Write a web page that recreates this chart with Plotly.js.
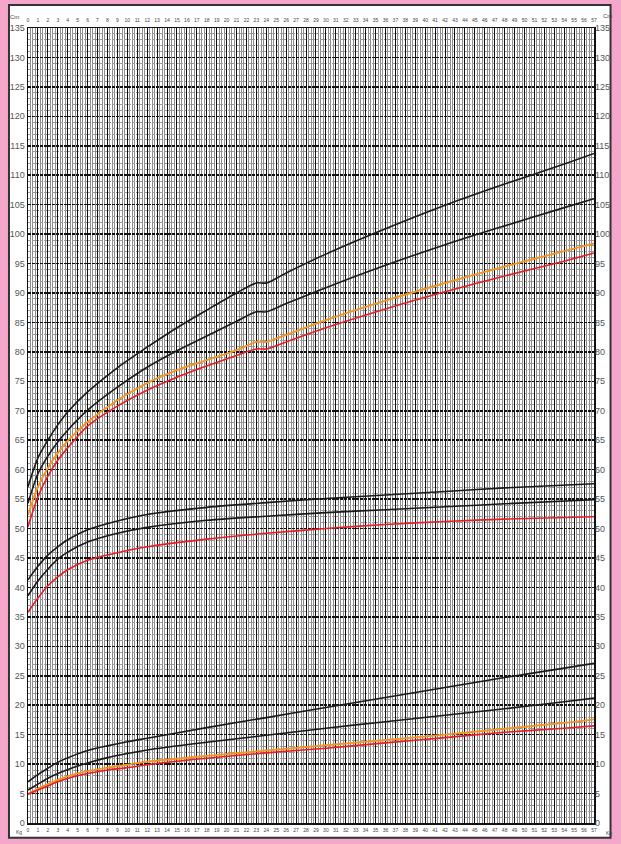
<!DOCTYPE html>
<html><head><meta charset="utf-8">
<script src="https://cdn.plot.ly/plotly-3.0.1.min.js"></script>
<style>html,body{margin:0;padding:0;background:#f4a7cb;}#chart{width:621px;height:844px;}</style>
</head><body><div id="chart"></div>
<script>
// length / height (cm)
const monthsLen = [0,1,2,3,4,6,9,12,15,18,21,23,24,26,30,36,42,48,54,57];
const lenBlack1 = [57.1,62.0,65.0,67.6,69.8,73.2,77.3,80.8,84.1,87.1,90.0,91.7,91.7,93.4,96.6,100.9,104.9,108.5,111.9,113.7];
const lenBlack2 = [54.3,59.3,62.3,64.7,66.7,70.1,74.0,77.4,80.2,82.7,85.2,86.8,86.8,88.2,90.9,94.7,98.2,101.4,104.5,106.0];
const lenOrange = [52.3,57.1,60.3,62.8,64.9,68.1,71.8,74.7,76.9,78.6,80.3,81.7,81.7,82.9,85.4,88.7,91.7,94.5,97.1,98.4];
const lenRed    = [50.3,55.4,58.9,61.6,63.7,67.4,70.8,73.5,75.7,77.6,79.4,80.5,80.5,81.7,84.1,87.3,90.2,92.9,95.4,96.8];

// head circumference (cm)
const monthsHead = [0,1,2,3,4,6,9,12,18,24,30,36,42,48,57];
const headBlack1 = [41.3,43.6,45.5,46.9,48.1,49.8,51.3,52.4,53.6,54.4,55.1,55.7,56.3,56.9,57.6];
const headBlack2 = [38.6,41.1,43.1,44.8,46.0,47.7,49.2,50.2,51.4,52.1,52.7,53.2,53.7,54.2,54.9];
const headRed    = [35.8,38.2,40.3,41.8,43.0,44.6,45.9,46.9,48.2,49.2,50.0,50.7,51.2,51.6,52.0];

// weight (kg)
const monthsWt = [0,1,2,3,4.5,6,8,10,12,18,24,30,36,42,48,54,57];
const wtBlack1 = [7.0,8.2,9.3,10.3,11.4,12.3,13.1,13.8,14.4,16.2,17.9,19.6,21.3,23.0,24.7,26.3,27.1];
const wtBlack2 = [5.6,6.6,7.6,8.4,9.4,10.2,11.1,11.8,12.4,13.7,14.9,16.1,17.2,18.3,19.4,20.6,21.2];
const wtOrange = [4.9,5.8,6.6,7.3,8.2,8.8,9.4,9.9,10.4,11.4,12.3,13.2,14.1,15.0,16.0,17.0,17.6];
const wtRed    = [4.9,5.6,6.3,7.0,7.8,8.4,9.0,9.4,9.9,11.0,11.9,12.7,13.6,14.5,15.4,16.1,16.5];

const xTicks = Array.from({length:58},(_,i)=>i);
const yTicks = Array.from({length:28},(_,i)=>i*5);

const BLACK='#1a1a1a', ORANGE='#f7941d', RED='#ed1c24';
function tr(x,y,c,w){return {x:x,y:y,type:'scatter',mode:'lines',line:{color:c,width:w,shape:'spline',smoothing:0.8},hoverinfo:'skip',showlegend:false};}
const data=[
 tr(monthsLen,lenBlack1,BLACK,1.6), tr(monthsLen,lenBlack2,BLACK,1.6), tr(monthsLen,lenOrange,ORANGE,1.9), tr(monthsLen,lenRed,RED,1.6),
 tr(monthsHead,headBlack1,BLACK,1.6), tr(monthsHead,headBlack2,BLACK,1.6), tr(monthsHead,headRed,RED,1.6),
 tr(monthsWt,wtBlack1,BLACK,1.6), tr(monthsWt,wtBlack2,BLACK,1.6), tr(monthsWt,wtOrange,ORANGE,1.9), tr(monthsWt,wtRed,RED,1.6),
 {x:[0,57],y:[0,135],xaxis:'x2',yaxis:'y2',type:'scatter',mode:'markers',marker:{opacity:0},hoverinfo:'skip',showlegend:false}
];
const FAM='Liberation Sans, Arial, sans-serif';
const tickFont={family:FAM,size:5,color:'#444'};
const yFont={family:FAM,size:9,color:'#555'};
const layout={
 width:621,height:844,margin:{l:28,r:27,t:28,b:21},
 paper_bgcolor:'#f4a7cb',plot_bgcolor:'#ffffff',showlegend:false,
 xaxis:{range:[0,57],tickvals:xTicks,ticktext:xTicks.map(String),ticks:'',tickfont:tickFont,ticklabelstandoff:1,
   showgrid:true,gridcolor:'#111',gridwidth:1,zeroline:false,
   minor:{dtick:0.25,tick0:0,showgrid:true,gridcolor:'#8c8c8c',gridwidth:1},
   showline:true,linecolor:'#111',linewidth:1.5,mirror:true,side:'bottom',fixedrange:true},
 xaxis2:{range:[0,57],overlaying:'x',side:'top',tickvals:xTicks,ticktext:xTicks.map(String),ticks:'',tickfont:tickFont,ticklabelstandoff:4,showgrid:false,zeroline:false,fixedrange:true},
 yaxis:{range:[0,135],tickvals:yTicks,ticktext:yTicks.map(String),ticks:'',tickfont:yFont,
   showgrid:true,gridcolor:'#111',gridwidth:1.6,griddash:'3px,1px',zeroline:false,
   minor:{dtick:1,tick0:0,showgrid:true,gridcolor:'#9a9a9a',gridwidth:1},
   showline:true,linecolor:'#111',linewidth:1.5,mirror:true,side:'left',fixedrange:true},
 yaxis2:{range:[0,135],overlaying:'y',side:'right',tickvals:yTicks,ticktext:yTicks.map(String),ticks:'',tickfont:yFont,showgrid:false,zeroline:false,fixedrange:true},
 shapes:[{type:'rect',xref:'paper',yref:'paper',x0:-0.0336,x1:1.0292,y0:-0.0185,y1:1.0289,fillcolor:'#ffffff',line:{color:'#333',width:2},layer:'below'}],
 annotations:[
  {xref:'paper',yref:'paper',x:-0.012,y:1.008,text:'Cm',showarrow:false,font:{family:FAM,size:6,color:'#444'},xanchor:'right',yanchor:'bottom'},
  {xref:'paper',yref:'paper',x:1.012,y:1.009,text:'Cm',showarrow:false,font:{family:FAM,size:6,color:'#444'},xanchor:'left',yanchor:'bottom'},
  {xref:'paper',yref:'paper',x:-0.007,y:-0.005,text:'Kg',showarrow:false,font:{family:FAM,size:5,color:'#444'},xanchor:'right',yanchor:'top'},
  {xref:'paper',yref:'paper',x:1.017,y:-0.006,text:'Kg',showarrow:false,font:{family:FAM,size:5,color:'#444'},xanchor:'left',yanchor:'top'}
 ]
};
Plotly.newPlot('chart',data,layout,{staticPlot:true,displayModeBar:false});
</script></body></html>
